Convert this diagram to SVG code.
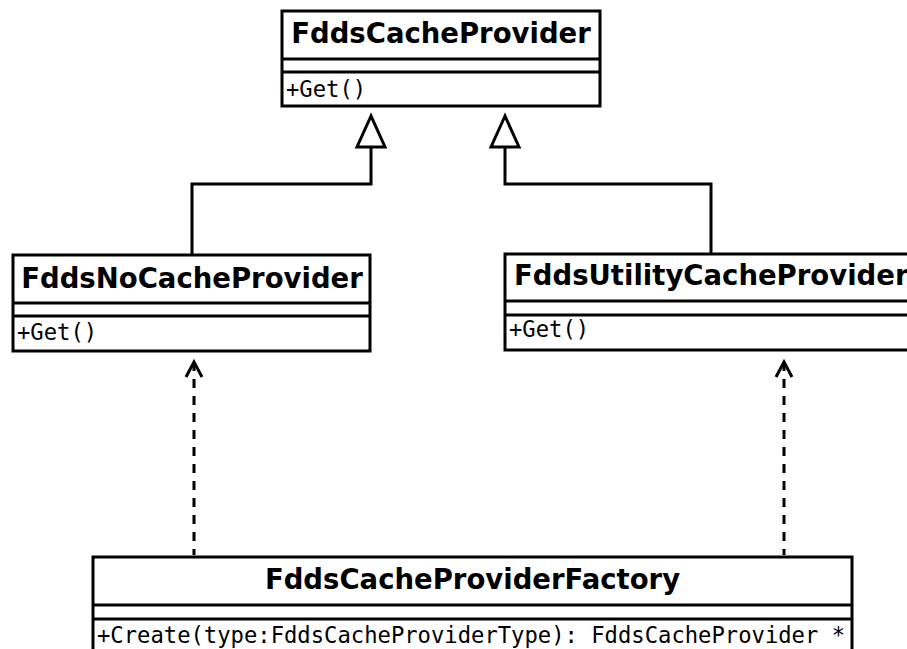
<svg xmlns="http://www.w3.org/2000/svg" width="907" height="649" viewBox="0 0 907 649">
  <style>
    .box { fill: #ffffff; stroke: #000000; stroke-width: 3; }
    .sep { stroke: #000000; stroke-width: 3; fill: none; }
    .title { font-family: "DejaVu Sans", "Liberation Sans", sans-serif; font-weight: bold; font-size: 27.5px; fill: #000000; }
    .member { font-family: "DejaVu Sans Mono", "Liberation Mono", monospace; font-size: 22.2px; fill: #000000; }
    .edge { stroke: #000000; stroke-width: 3; fill: none; }
    .dash { stroke: #000000; stroke-width: 3; fill: none; stroke-dasharray: 9 8; }
    .head { stroke: #000000; stroke-width: 3; fill: #ffffff; }
  </style>

  <!-- connectors -->
  <g id="connectors">
    <!-- generalization: FddsNoCacheProvider -> FddsCacheProvider -->
    <path class="edge" d="M371,147 V184 H192 V255"/>
    <polygon class="head" points="371,116 357,147 385,147"/>
    <!-- generalization: FddsUtilityCacheProvider -> FddsCacheProvider -->
    <path class="edge" d="M505,147 V184 H711 V254"/>
    <polygon class="head" points="505,116 491,147 519,147"/>
    <!-- dependency: factory -> FddsNoCacheProvider -->
    <path class="dash" d="M194,555 V363" stroke-dashoffset="3"/>
    <path class="edge" d="M186,377 L194,362 L202,377"/>
    <!-- dependency: factory -> FddsUtilityCacheProvider -->
    <path class="dash" d="M784,555 V363" stroke-dashoffset="3"/>
    <path class="edge" d="M776,377 L784,362 L792,377"/>
  </g>

  <!-- FddsCacheProvider -->
  <g id="FddsCacheProvider">
    <rect class="box" x="282" y="11" width="318" height="95"/>
    <line class="sep" x1="282" y1="59" x2="600" y2="59"/>
    <line class="sep" x1="282" y1="72" x2="600" y2="72"/>
    <text class="title" x="441" y="43" text-anchor="middle">FddsCacheProvider</text>
    <text class="member" x="286" y="97">+Get()</text>
  </g>

  <!-- FddsNoCacheProvider -->
  <g id="FddsNoCacheProvider">
    <rect class="box" x="13" y="255" width="357" height="96"/>
    <line class="sep" x1="13" y1="303" x2="370" y2="303"/>
    <line class="sep" x1="13" y1="316" x2="370" y2="316"/>
    <text class="title" x="192" y="288" text-anchor="middle">FddsNoCacheProvider</text>
    <text class="member" x="17" y="340">+Get()</text>
  </g>

  <!-- FddsUtilityCacheProvider -->
  <g id="FddsUtilityCacheProvider">
    <rect class="box" x="505" y="254" width="412" height="96"/>
    <line class="sep" x1="505" y1="301" x2="917" y2="301"/>
    <line class="sep" x1="505" y1="315" x2="917" y2="315"/>
    <text class="title" x="514" y="285">FddsUtilityCacheProvider</text>
    <text class="member" x="509" y="337">+Get()</text>
  </g>

  <!-- FddsCacheProviderFactory -->
  <g id="FddsCacheProviderFactory">
    <rect class="box" x="93" y="557" width="759" height="110"/>
    <line class="sep" x1="93" y1="605" x2="852" y2="605"/>
    <line class="sep" x1="93" y1="619" x2="852" y2="619"/>
    <text class="title" x="472.5" y="589" text-anchor="middle">FddsCacheProviderFactory</text>
    <text class="member" x="97" y="643">+Create(type:FddsCacheProviderType): FddsCacheProvider *</text>
  </g>
</svg>
